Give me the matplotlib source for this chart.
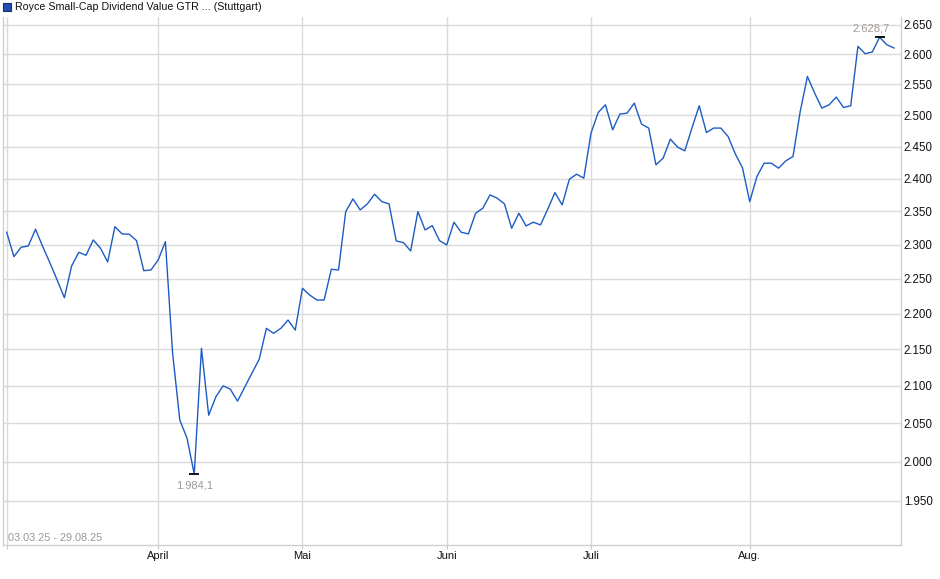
import matplotlib
matplotlib.use("Agg")
import matplotlib.pyplot as plt
from matplotlib.ticker import FixedLocator, FuncFormatter, NullLocator

plt.rcParams['font.family'] = ['Liberation Sans', 'DejaVu Sans']

# daily closes 03.03.25 - 29.08.25 (trading days)
values = [
    2318.5, 2282.3, 2296.1, 2298.1, 2322.9, 2297.0, 2273.0, 2248.2, 2222.7, 2268.6,
    2288.7, 2284.3, 2307.0, 2294.7, 2274.5, 2326.8, 2315.9, 2315.5, 2305.9, 2261.8,
    2262.8, 2277.4, 2304.4, 2144.9, 2054.2, 2030.5, 1984.1, 2151.4, 2060.8, 2085.3,
    2100.1, 2095.6, 2079.5, 2098.4, 2117.4, 2136.2, 2179.3, 2172.3, 2179.3, 2191.0,
    2176.9, 2236.2, 2226.6, 2219.4, 2219.4, 2263.8, 2262.8, 2349.5, 2368.8, 2352.0,
    2361.2, 2375.9, 2364.6, 2361.2, 2305.5, 2303.0, 2290.7, 2349.5, 2321.9, 2328.3,
    2305.9, 2299.6, 2333.5, 2318.5, 2315.9, 2347.0, 2354.6, 2374.9, 2369.8, 2361.2,
    2324.4, 2347.0, 2327.9, 2333.5, 2329.4, 2353.1, 2378.4, 2359.6, 2399.0, 2406.8,
    2400.6, 2471.3, 2504.3, 2516.8, 2476.5, 2501.7, 2503.3, 2519.5, 2485.7, 2479.3,
    2421.3, 2431.8, 2461.7, 2449.1, 2443.2, 2479.7, 2515.2, 2472.2, 2479.3, 2479.3,
    2465.9, 2438.5, 2416.6, 2364.6, 2403.1, 2423.9, 2423.9, 2416.1, 2427.5, 2434.3,
    2505.9, 2563.1, 2535.8, 2511.4, 2516.8, 2529.3, 2512.4, 2515.2, 2613.2, 2600.9,
    2603.8, 2628.7, 2616.0, 2610.5,
]

# first trading day of each month (index into values)
month_idx = [0, 21, 41, 61, 81, 103]
month_labels = ['', 'April', 'Mai', 'Juni', 'Juli', 'Aug.']
y_ticks = [1950, 2000, 2050, 2100, 2150, 2200, 2250, 2300, 2350, 2400,
           2450, 2500, 2550, 2600, 2650]

title = 'Royce Small-Cap Dividend Value GTR ... (Stuttgart)'
date_range = '03.03.25 - 29.08.25'

line_col = '#1c5bc4'
grid_col = '#dadada'

fig = plt.figure(figsize=(9.4, 5.79), dpi=100)
ax = fig.add_axes([0.0032, 0.0587, 0.9553, 0.9128])

x = list(range(len(values)))
ax.plot(x, values, color=line_col, lw=1.0, zorder=3)

ax.set_yscale('log')
ax.set_ylim(1895.5, 2664)
ax.set_xlim(-0.51, 123.97)

ax.yaxis.set_major_locator(FixedLocator(y_ticks))
ax.yaxis.set_minor_locator(NullLocator())
ax.yaxis.set_major_formatter(FuncFormatter(lambda v, p: f'{v:,.0f}'.replace(',', '.')))
ax.yaxis.tick_right()
ax.tick_params(axis='y', which='both', length=0, pad=2, labelsize=8.3, labelcolor='#111111')

ax.set_xticks(month_idx)
ax.set_xticklabels(month_labels)
ax.tick_params(axis='x', length=3, width=0.8, color='#c8c8c8', pad=1,
               labelsize=8, labelcolor='#111111')

ax.grid(True, which='major', color=grid_col, lw=1.0, zorder=0)
for side in ['left', 'right', 'bottom']:
    ax.spines[side].set_color('#cfcfcf')
    ax.spines[side].set_linewidth(1.0)
ax.spines['top'].set_visible(False)

# extreme markers and labels
i_min = values.index(min(values))
i_max = values.index(max(values))
ax.plot([i_min, i_max], [values[i_min], values[i_max]], ls='none', marker='_',
        ms=7, mew=1.3, color='black', zorder=4)
fmt = lambda v: f'{v:,.1f}'.replace(',', 'X').replace('.', ',').replace('X', '.')
ax.annotate(fmt(values[i_min]), (i_min, values[i_min]), xytext=(0, -8.5),
            textcoords='offset points', ha='center', va='center',
            fontsize=8, color='#999999')
ax.annotate(fmt(values[i_max]), (i_max, values[i_max]), xytext=(-6.5, 6.5),
            textcoords='offset points', ha='center', va='center',
            fontsize=8, color='#a09a94')

ax.text(0.006, 0.004, date_range, transform=ax.transAxes, fontsize=7.8,
        color='#9b9690', ha='left', va='bottom')

# legend box at the top
fig.patches.append(plt.Rectangle((3 / 940, 1 - 11 / 579), 8 / 940, 8 / 579,
                                 transform=fig.transFigure, facecolor='#1f4fb0',
                                 edgecolor='#1a2f66', lw=0.8))
fig.text(15 / 940, 1 - 6.5 / 579, title, fontsize=7.7, color='#111111',
         ha='left', va='center')

fig.savefig('out.png', dpi=100)
